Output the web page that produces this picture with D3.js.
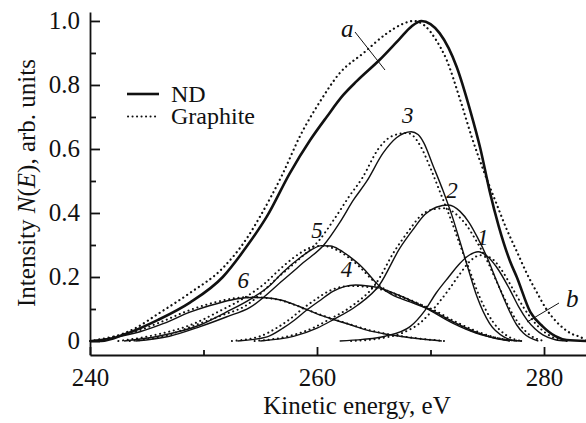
<!DOCTYPE html>
<html>
<head>
<meta charset="utf-8">
<script src="https://cdn.jsdelivr.net/npm/d3@7"></script>
<style>
  body { margin: 0; background: #fff; }
  svg { display: block; }
  .axis path, .axis line { stroke: #111; stroke-width: 1.8; }
</style>
</head>
<body>
<div id="chart"></div>
<script>
// Auger spectra, ND (solid) vs graphite (dotted); [energy eV, intensity]
const ndTotal = [[240,0],[241,0],[243,0.02],[246,0.066],[248.8,0.12],[251.7,0.2],[253.8,0.295],[255.6,0.39],[257.6,0.524],[259.4,0.628],[260.85,0.7],[262.3,0.768],[263.5,0.812],[265.5,0.878],[267.3,0.945],[268.3,0.982],[269.2,1],[270,0.99],[270.8,0.962],[271.6,0.915],[272.3,0.857],[273.5,0.72],[274.4,0.6],[275.2,0.47],[276,0.36],[277,0.25],[277.6,0.2],[278.8,0.09],[279.9,0.045],[281,0.015],[282,0.003],[283.7,0]];
const grTotal = [[240.5,0],[242,0.012],[244,0.04],[246,0.085],[248.8,0.15],[251.7,0.228],[253.8,0.32],[255,0.39],[257,0.524],[258.5,0.64],[260.3,0.75],[262,0.837],[264.1,0.9],[266.1,0.96],[267.5,0.99],[268.5,1],[269.5,0.985],[270.5,0.94],[271.4,0.88],[272.6,0.755],[273.7,0.63],[274.7,0.53],[275.8,0.43],[276.7,0.35],[277.6,0.28],[278.5,0.21],[279.4,0.15],[280.2,0.1],[281.1,0.06],[282.3,0.025],[283.5,0.006],[283.7,0]];

const nd1 = [[262,0],[264,0.005],[266,0.015],[268.2,0.045],[269.5,0.095],[270.5,0.15],[271.6,0.2],[272.6,0.243],[273.4,0.268],[274.2,0.279],[275,0.265],[275.8,0.232],[277,0.16],[277.8,0.105],[278.5,0.066],[279.2,0.038],[279.9,0.019],[281,0.004],[282,0]];
const nd2 = [[255,0],[258,0.015],[260,0.04],[261.4,0.066],[263.5,0.11],[265.5,0.175],[267.3,0.29],[268.5,0.35],[269.5,0.395],[270.5,0.418],[271.6,0.425],[272.6,0.405],[273.4,0.37],[274.1,0.326],[275,0.26],[275.8,0.19],[276.5,0.13],[277,0.09],[277.6,0.05],[278.2,0.024],[279.5,0]];
const nd3 = [[244,0],[247,0.015],[249.7,0.045],[252,0.075],[254.1,0.105],[257,0.19],[258.8,0.245],[260.6,0.3],[262,0.37],[263.2,0.44],[264.4,0.5],[265.8,0.586],[267,0.635],[268.3,0.654],[268.9,0.645],[269.4,0.62],[270.2,0.55],[271.1,0.47],[272,0.38],[272.6,0.31],[273.2,0.24],[274.1,0.138],[275.2,0.055],[276.5,0.012],[277.5,0]];
const nd4 = [[253,0],[255.6,0.013],[257,0.04],[258,0.065],[259.1,0.097],[260.2,0.125],[261.4,0.155],[262.4,0.17],[263.4,0.175],[264.5,0.172],[265.6,0.165],[266.6,0.152],[268.2,0.128],[270,0.095],[272,0.055],[274,0.025],[275.2,0.013],[276.5,0.004],[278,0]];
const nd5 = [[243,0],[246,0.015],[249.7,0.05],[252,0.09],[254.1,0.13],[255.9,0.175],[257,0.215],[258.5,0.26],[259.5,0.285],[260.4,0.298],[261.2,0.297],[262,0.285],[262.9,0.263],[264,0.23],[265,0.19],[265.6,0.168],[266.6,0.145],[268.2,0.122],[270,0.097],[272,0.06],[274,0.028],[275.5,0.01],[277,0]];
const nd6 = [[240,0],[242,0.01],[244.4,0.029],[246.5,0.055],[248.8,0.09],[250.5,0.11],[251.7,0.122],[253,0.132],[254.3,0.136],[255.5,0.135],[256.8,0.128],[258.5,0.107],[260,0.085],[261.4,0.068],[263,0.05],[264.4,0.034],[266,0.022],[267.3,0.015],[269,0.007],[271,0]];

const gr1 = [[263,0],[265.5,0.008],[267.5,0.025],[269.2,0.06],[270.5,0.11],[271.6,0.16],[272.6,0.21],[273.5,0.25],[274.4,0.268],[275.3,0.26],[276.2,0.225],[277.3,0.16],[278.2,0.105],[279,0.065],[279.8,0.035],[280.6,0.015],[282,0]];
const gr2 = [[254.5,0],[257.5,0.015],[259.6,0.04],[261,0.066],[263.1,0.11],[265.1,0.175],[266.9,0.285],[268.1,0.345],[269.1,0.39],[270.1,0.41],[271.2,0.415],[272.3,0.395],[273.2,0.36],[274,0.315],[275,0.25],[275.9,0.18],[276.7,0.12],[277.3,0.08],[278,0.045],[278.7,0.02],[280,0]];
const gr3 = [[243.5,0],[246.5,0.015],[249.3,0.05],[251.6,0.08],[253.7,0.11],[256.6,0.2],[258.4,0.255],[260.2,0.315],[261.6,0.385],[262.8,0.45],[264,0.51],[265.4,0.6],[266.6,0.64],[267.9,0.65],[268.5,0.64],[269.1,0.61],[270,0.54],[270.9,0.46],[271.9,0.37],[272.6,0.3],[273.3,0.235],[274.3,0.14],[275.5,0.06],[276.8,0.015],[278,0]];
const gr4 = [[252.5,0],[255,0.015],[256.5,0.042],[257.6,0.068],[258.7,0.1],[259.8,0.128],[261,0.155],[262,0.168],[263,0.172],[264.2,0.17],[265.4,0.163],[266.5,0.152],[268.1,0.13],[270,0.098],[272,0.058],[274,0.027],[275.4,0.013],[276.8,0.004],[278,0]];
const gr5 = [[242.5,0],[245.5,0.017],[249.2,0.055],[251.5,0.095],[253.6,0.135],[255.4,0.18],[256.6,0.22],[258,0.262],[259,0.285],[260,0.297],[260.8,0.296],[261.7,0.285],[262.7,0.263],[263.8,0.23],[264.9,0.19],[265.6,0.17],[266.7,0.148],[268.3,0.125],[270.1,0.1],[272.1,0.062],[274.1,0.03],[275.7,0.011],[277.2,0]];
const gr6 = [[240,0],[241.8,0.012],[244.2,0.032],[246.3,0.06],[248.6,0.094],[250.3,0.114],[251.5,0.125],[252.8,0.134],[254.1,0.137],[255.4,0.135],[256.7,0.128],[258.4,0.108],[260,0.086],[261.4,0.069],[263,0.051],[264.4,0.036],[266,0.023],[267.4,0.015],[269.2,0.007],[271.2,0]];

const xMajor = [240, 260, 280];
const xMinor = [250, 270];
const yMajor = [0, 0.2, 0.4, 0.6, 0.8, 1.0];
const yMinor = [0.1, 0.3, 0.5, 0.7, 0.9];
const yLabels = ["0", "0.2", "0.4", "0.6", "0.8", "1.0"];

// component label positions [text, energy, intensity]
const compLabels = [["1", 274.6, 0.3], ["2", 271.9, 0.448], ["3", 268.0, 0.68], ["4", 262.6, 0.2], ["5", 260.0, 0.323], ["6", 253.5, 0.165]];

const width = 586, height = 423;
const SERIF = "Liberation Serif";

const x = d3.scaleLinear().domain([240, 283.7]).range([90, 586]);
const y = d3.scaleLinear().domain([-0.04375, 1.028]).range([355, 12]);

const svg = d3.select("#chart").append("svg")
  .attr("width", width)
  .attr("height", height)
  .attr("font-family", SERIF);

const line = d3.line()
  .x(d => x(d[0]))
  .y(d => y(d[1]))
  .curve(d3.curveMonotoneX);

// graphite (dotted) first, ND solid on top
[gr6, gr5, gr4, gr3, gr2, gr1].forEach(s => {
  svg.append("path").attr("d", line(s))
    .attr("fill", "none").attr("stroke", "#111")
    .attr("stroke-width", 2).attr("stroke-linecap", "round")
    .attr("stroke-dasharray", "0.1,4.6");
});
svg.append("path").attr("d", line(grTotal))
  .attr("fill", "none").attr("stroke", "#111")
  .attr("stroke-width", 2.2).attr("stroke-linecap", "round")
  .attr("stroke-dasharray", "0.1,4.6");

[nd6, nd5, nd4, nd3, nd2, nd1].forEach(s => {
  svg.append("path").attr("d", line(s))
    .attr("fill", "none").attr("stroke", "#111")
    .attr("stroke-width", 1.4);
});
svg.append("path").attr("d", line(ndTotal))
  .attr("fill", "none").attr("stroke", "#111")
  .attr("stroke-width", 2.6);

// axes
svg.append("g").attr("class", "axis")
  .attr("transform", "translate(0,355)")
  .call(d3.axisBottom(x).tickValues(xMajor).tickSizeInner(-8).tickSizeOuter(0).tickPadding(13).tickFormat(d3.format("d")));
svg.append("g").attr("class", "axis")
  .attr("transform", "translate(0,355)")
  .call(d3.axisBottom(x).tickValues(xMinor).tickSizeInner(-5).tickSizeOuter(0).tickFormat(""))
  .select(".domain").remove();

svg.append("g").attr("class", "axis")
  .attr("transform", "translate(90,0)")
  .call(d3.axisLeft(y).tickValues(yMajor).tickSizeInner(-10).tickSizeOuter(0).tickPadding(10)
    .tickFormat((d, i) => yLabels[i]));
svg.append("g").attr("class", "axis")
  .attr("transform", "translate(90,0)")
  .call(d3.axisLeft(y).tickValues(yMinor).tickSizeInner(-6).tickSizeOuter(0).tickFormat(""))
  .select(".domain").remove();
svg.selectAll(".axis").attr("font-family", SERIF).attr("font-size", 25);
svg.selectAll(".axis text").attr("fill", "#111").attr("font-family", SERIF);

// axis titles
svg.append("text")
  .attr("x", 357).attr("y", 414)
  .attr("text-anchor", "middle")
  .attr("font-family", SERIF).attr("font-size", 25).attr("fill", "#111")
  .text("Kinetic energy, eV");

const yt = svg.append("text")
  .attr("transform", "translate(35,183) rotate(-90)")
  .attr("text-anchor", "middle")
  .attr("font-family", SERIF).attr("font-size", 25).attr("fill", "#111");
yt.append("tspan").text("Intensity ");
yt.append("tspan").attr("font-style", "italic").text("N");
yt.append("tspan").text("(");
yt.append("tspan").attr("font-style", "italic").text("E");
yt.append("tspan").text("), arb. units");

// legend
const legend = svg.append("g");
legend.append("line").attr("x1", 127).attr("x2", 159).attr("y1", 94).attr("y2", 94)
  .attr("stroke", "#111").attr("stroke-width", 2.6);
legend.append("line").attr("x1", 128).attr("x2", 159).attr("y1", 116.5).attr("y2", 116.5)
  .attr("stroke", "#111").attr("stroke-width", 2).attr("stroke-linecap", "round")
  .attr("stroke-dasharray", "0.1,4.4");
legend.append("text").attr("x", 171).attr("y", 102).attr("font-family", SERIF).attr("font-size", 24).attr("fill", "#111").text("ND");
legend.append("text").attr("x", 171).attr("y", 124).attr("font-family", SERIF).attr("font-size", 24).attr("fill", "#111").text("Graphite");

// component numbers
svg.selectAll("text.comp").data(compLabels).join("text")
  .attr("class", "comp")
  .attr("x", d => x(d[1])).attr("y", d => y(d[2]))
  .attr("text-anchor", "middle")
  .attr("font-family", SERIF).attr("font-size", 23).attr("font-style", "italic").attr("fill", "#111")
  .text(d => d[0]);

// a / b markers
svg.append("line").attr("x1", 355).attr("y1", 32).attr("x2", 385).attr("y2", 70)
  .attr("stroke", "#111").attr("stroke-width", 1);
svg.append("text").attr("x", 341).attr("y", 37).attr("font-family", SERIF).attr("font-size", 25).attr("font-style", "italic").attr("fill", "#111").text("a");
svg.append("line").attr("x1", 559).attr("y1", 303).attr("x2", 527).attr("y2", 322)
  .attr("stroke", "#111").attr("stroke-width", 1);
svg.append("text").attr("x", 566).attr("y", 307).attr("font-family", SERIF).attr("font-size", 25).attr("font-style", "italic").attr("fill", "#111").text("b");
</script>
</body>
</html>
